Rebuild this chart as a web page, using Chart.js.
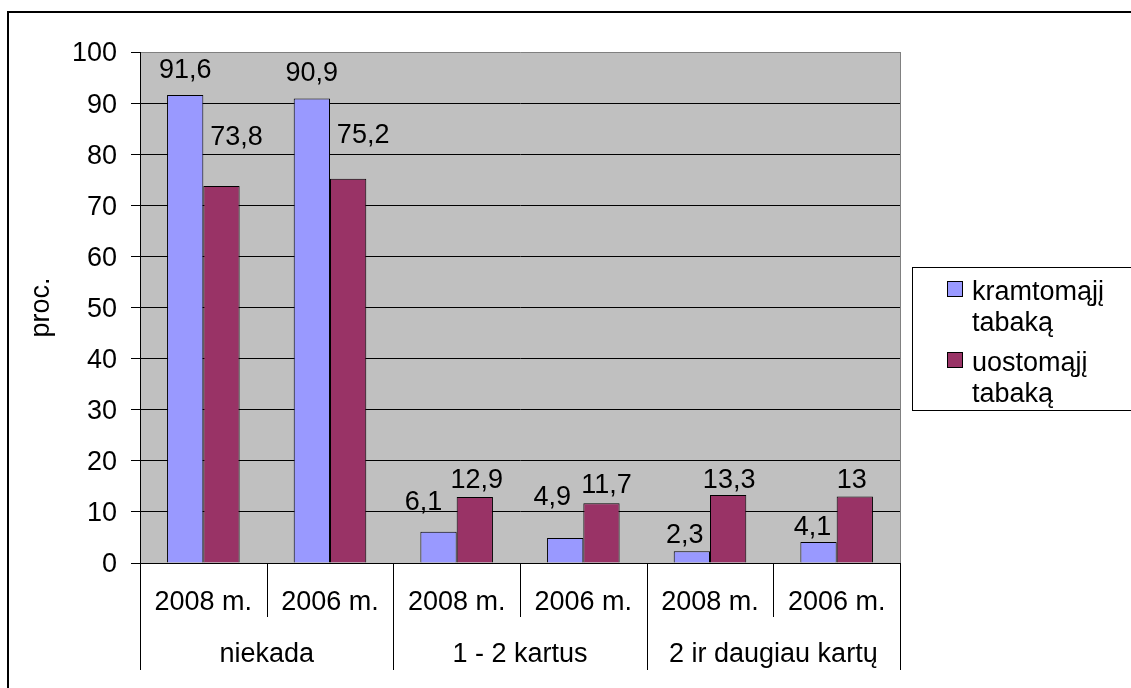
<!DOCTYPE html>
<html><head><meta charset="utf-8">
<script src="https://cdn.jsdelivr.net/npm/chart.js@4"></script>
<style>html,body{margin:0;padding:0;background:#fff;} canvas{display:block;}</style>
</head><body>
<canvas id="c" width="1131" height="688"></canvas>
<script>
// ---- data ----
const categories = ['2008 m.', '2006 m.', '2008 m.', '2006 m.', '2008 m.', '2006 m.'];
const groups = ['niekada', '1 - 2 kartus', '2 ir daugiau kartų'];
const seriesNames = ['kramtomąjį tabaką', 'uostomąjį tabaką'];
const chewing = [91.6, 90.9, 6.1, 4.9, 2.3, 4.1];
const snuff = [73.8, 75.2, 12.9, 11.7, 13.3, 13];
const yMin = 0, yMax = 100, yStep = 10;
const yTitle = 'proc.';

// ---- style ----
const FONT = "'Liberation Sans', Arial, sans-serif";
const FS = 27;
const colors = ['#9999FF', '#993366'];
// manual label nudges [dx, dy] per series/point (as placed in original)
const labelShift = [
  [[0,-8],[0,-9],[-15,-13],[-13,-24],[-7,0],[-6,1]],
  [[15,-32],[15,-27],[2,-1],[5,-2],[1,2],[-3,0]]
];

const deco = {
  id: 'deco',
  beforeDraw(chart) {
    const {ctx, chartArea: a} = chart;
    ctx.save();
    ctx.fillStyle = '#C0C0C0';
    ctx.fillRect(a.left, a.top, a.right - a.left, a.bottom - a.top);
    ctx.strokeStyle = '#000';
    ctx.lineWidth = 2;
    ctx.strokeRect(8, 12, 1140, 700);
    ctx.restore();
  },
  afterDatasetsDraw(chart) {
    const {ctx} = chart;
    ctx.save();
    ctx.font = FS + 'px ' + FONT;
    ctx.fillStyle = '#000';
    ctx.textAlign = 'center';
    ctx.textBaseline = 'middle';
    chart.data.datasets.forEach((ds, di) => {
      const meta = chart.getDatasetMeta(di);
      meta.data.forEach((bar, i) => {
        const s = labelShift[di][i];
        const txt = String(ds.data[i]).replace('.', ',');
        ctx.fillText(txt, bar.x + s[0], bar.y - 16 + s[1]);
      });
    });
    ctx.restore();
  },
  afterDraw(chart) {
    const {ctx, chartArea: a} = chart;
    const xs = chart.scales.x;
    ctx.save();
    // right plot border
    ctx.strokeStyle = '#808080';
    ctx.lineWidth = 1;
    ctx.beginPath();
    ctx.moveTo(Math.round(a.right) + 0.5, a.top);
    ctx.lineTo(Math.round(a.right) + 0.5, a.bottom);
    ctx.stroke();
    // category separators
    const cw = xs.getPixelForValue(1) - xs.getPixelForValue(0);
    const bounds = [];
    for (let i = 0; i <= categories.length; i++) bounds.push(xs.getPixelForValue(0) - cw / 2 + i * cw);
    ctx.strokeStyle = '#000';
    bounds.forEach((bx, i) => {
      const x = Math.round(bx) + 0.5;
      ctx.beginPath();
      ctx.moveTo(x, a.bottom);
      ctx.lineTo(x, i % 2 === 0 ? 670 : 617);
      ctx.stroke();
    });
    // group labels
    ctx.font = FS + 'px ' + FONT;
    ctx.fillStyle = '#000';
    ctx.textAlign = 'center';
    ctx.textBaseline = 'middle';
    groups.forEach((g, gi) => {
      ctx.fillText(g, (bounds[gi * 2] + bounds[gi * 2 + 2]) / 2, 655);
    });
    // legend
    ctx.lineWidth = 1;
    ctx.strokeStyle = '#000';
    ctx.strokeRect(912.5, 267.5, 260, 143);
    ctx.textAlign = 'left';
    ctx.textBaseline = 'alphabetic';
    chart.data.datasets.forEach((ds, di) => {
      const base = 300 + di * 71;
      ctx.fillStyle = ds.backgroundColor;
      ctx.fillRect(947.5, base - 18.5, 15, 15);
      ctx.strokeRect(947.5, base - 18.5, 15, 15);
      ctx.fillStyle = '#000';
      ds.label.split(' ').forEach((line, li) => {
        ctx.fillText(line, 972, base + li * 31);
      });
    });
    ctx.restore();
  }
};

new Chart(document.getElementById('c'), {
  type: 'bar',
  data: {
    labels: categories,
    datasets: [
      {label: seriesNames[0], data: chewing, backgroundColor: colors[0], borderColor: '#000', borderWidth: 1, borderSkipped: 'start'},
      {label: seriesNames[1], data: snuff, backgroundColor: colors[1], borderColor: '#000', borderWidth: 1, borderSkipped: 'start'}
    ]
  },
  options: {
    responsive: false,
    animation: false,
    events: [],
    layout: {padding: {left: 0, right: 231, top: 52, bottom: 0}},
    plugins: {legend: {display: false}, tooltip: {enabled: false}},
    datasets: {bar: {categoryPercentage: 0.573, barPercentage: 1}},
    scales: {
      x: {
        grid: {display: false, drawTicks: false, tickLength: 0},
        border: {display: true, color: '#000', width: 1},
        ticks: {color: '#000', font: {family: FONT, size: FS}, padding: 23, maxRotation: 0, autoSkip: false},
        afterFit(s) { s.height = 125; }
      },
      y: {
        min: yMin, max: yMax,
        grid: {
          color: (c) => (c.tick && c.tick.value === yMax) ? '#808080' : '#000',
          lineWidth: 1, tickLength: 9, tickColor: '#000'
        },
        border: {display: true, color: '#000', width: 1},
        ticks: {stepSize: yStep, color: '#000', font: {family: FONT, size: FS}, padding: 14, labelOffset: 2},
        title: {display: true, text: yTitle, color: '#000', font: {family: FONT, size: FS}, padding: {top: 25, bottom: 0}},
        afterFit(s) { s.width = 140; }
      }
    }
  },
  plugins: [deco]
});
</script>
</body></html>
